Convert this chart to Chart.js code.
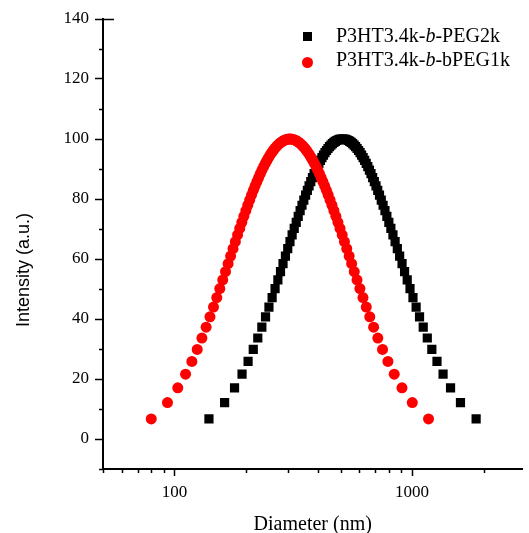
<!DOCTYPE html>
<html>
<head>
<meta charset="utf-8">
<script src="https://cdn.jsdelivr.net/npm/chart.js@4.4.1/dist/chart.umd.min.js"></script>
<style>
    body { margin: 0; background: #fff; }
    #wrap { position: relative; width: 529px; height: 533px; }
    #grafico { position: absolute; left: 0; top: 0; }
    .leyenda { position: absolute; font-family: 'Liberation Serif', serif; font-size: 20px; line-height: 23px; white-space: nowrap; color: #000; }
    .marca { position: absolute; }
    #tituloY { position: absolute; width: 220px; text-align: center; font-family: 'Liberation Sans', Arial, sans-serif; font-size: 18px; line-height: 20px; transform: rotate(-90deg); }
</style>
</head>
<body>
<div id="wrap">
    <canvas id="grafico" width="529" height="533"></canvas>
    <div class="marca" style="left:302.5px; top:32px; width:9px; height:9px; background:#000;"></div>
    <div class="marca" style="left:302px; top:57px; width:11px; height:11px; border-radius:50%; background:#ff0000;"></div>
    <div class="leyenda" style="left:336px; top:24px;">P3HT3.4k-<i>b</i>-PEG2k</div>
    <div class="leyenda" style="left:336px; top:47.5px;">P3HT3.4k-<i>b</i>-bPEG1k</div>
    <div id="tituloY" style="left:-87px; top:260px;">Intensity (a.u.)</div>
</div>
<script>
// intensidad (a.u.), misma para ambas muestras, de la cola izquierda a la derecha
const intensidad = [
    6.68, 12.14, 17.06, 21.60, 25.85, 29.86, 33.66, 37.27, 40.71, 43.99,
    47.13, 50.14, 53.02, 55.79, 58.44, 60.99, 63.43, 65.78, 68.02, 70.18,
    72.24, 74.22, 76.11, 77.92, 79.65, 81.31, 82.88, 84.38, 85.80, 87.15,
    88.43, 89.64, 90.78, 91.85, 92.85, 93.78, 94.64, 95.44, 96.17, 96.84,
    97.44, 97.98, 98.46, 98.87, 99.21, 99.50, 99.72, 99.87, 99.97,
    100,
    99.97, 99.87, 99.72, 99.50, 99.21, 98.87, 98.46, 97.98, 97.44,
    96.84, 96.17, 95.44, 94.64, 93.78, 92.85, 91.85, 90.78, 89.64, 88.43,
    87.15, 85.80, 84.38, 82.88, 81.31, 79.65, 77.92, 76.11, 74.22, 72.24,
    70.18, 68.02, 65.78, 63.43, 60.99, 58.44, 55.79, 53.02, 50.14, 47.13,
    43.99, 40.71, 37.27, 33.66, 29.86, 25.85, 21.60, 17.06, 12.14, 6.68
];

// diametro (nm) P3HT3.4k-b-PEG2k
const diametroPEG2k = [
    139.6, 162.5, 178.9, 192.4, 204.0, 214.5, 224.1, 233.1, 241.6, 249.7,
    257.5, 265.0, 272.3, 279.3, 286.2, 293.0, 299.6, 306.2, 312.6, 319.0,
    325.3, 331.6, 337.8, 344.0, 350.1, 356.2, 362.3, 368.4, 374.5, 380.6,
    386.7, 392.8, 398.9, 405.1, 411.2, 417.4, 423.6, 429.9, 436.2, 442.6,
    449.0, 455.4, 461.9, 468.5, 475.2, 481.9, 488.7, 495.6, 502.5,
    509.6,
    516.7, 524.0, 531.4, 538.9, 546.5, 554.2, 562.1, 570.2, 578.4,
    586.7, 595.3, 604.0, 612.9, 622.1, 631.4, 641.1, 650.9, 661.1, 671.5,
    682.3, 693.4, 704.8, 716.7, 729.0, 741.7, 754.9, 768.7, 783.1, 798.2,
    814.0, 830.6, 848.1, 866.6, 886.2, 907.2, 929.6, 953.8, 979.9, 1008.4,
    1039.8, 1074.6, 1113.8, 1158.5, 1210.5, 1272.8, 1350.0, 1451.4, 1597.9, 1859.8
];

// diametro (nm) P3HT3.4k-b-bPEG1k
const diametroBPEG1k = [
    79.8, 93.4, 103.2, 111.3, 118.3, 124.6, 130.4, 135.8, 141.0, 145.9,
    150.6, 155.1, 159.6, 163.9, 168.1, 172.2, 176.3, 180.3, 184.2, 188.1,
    192.0, 195.8, 199.6, 203.4, 207.2, 210.9, 214.7, 218.4, 222.2, 225.9,
    229.7, 233.4, 237.2, 241.0, 244.8, 248.6, 252.5, 256.4, 260.3, 264.2,
    268.2, 272.2, 276.2, 280.3, 284.4, 288.6, 292.8, 297.1, 301.5,
    305.9,
    310.3, 314.8, 319.4, 324.1, 328.9, 333.7, 338.7, 343.7, 348.8,
    354.1, 359.4, 364.9, 370.5, 376.2, 382.1, 388.2, 394.3, 400.7, 407.3,
    414.1, 421.1, 428.3, 435.8, 443.5, 451.6, 459.9, 468.7, 477.8, 487.3,
    497.4, 507.9, 519.0, 530.8, 543.3, 556.6, 570.9, 586.3, 603.0, 621.2,
    641.3, 663.6, 688.7, 717.4, 750.9, 791.0, 840.9, 906.5, 1001.7, 1172.6
];

const ticksX = [100, 1000];
const ticksXMenores = [50, 60, 70, 80, 90, 200, 300, 400, 500, 600, 700, 800, 900, 2000];
const ticksY = [0, 20, 40, 60, 80, 100, 120, 140];
const ticksYMenores = [-10, 10, 30, 50, 70, 90, 110, 130];

function armarPuntos(xs, ys){
    return xs.map((x, i) => ({ x: x, y: ys[i] }));
}

// ticks menores (mas cortos), ubicados con las escalas del grafico
const ticksMenores = {
    id: 'ticksMenores',
    afterDraw(chart){
        const ctx = chart.ctx;
        const ejeX = chart.scales.x;
        const ejeY = chart.scales.y;
        ctx.save();
        ctx.strokeStyle = '#000';
        ctx.lineWidth = 1.5;
        ctx.beginPath();
        ticksXMenores.forEach(v => {
            const px = Math.round(ejeX.getPixelForValue(v)) + 0.5;
            ctx.moveTo(px, ejeX.top);
            ctx.lineTo(px, ejeX.top + 4);
        });
        ticksYMenores.forEach(v => {
            const py = Math.round(ejeY.getPixelForValue(v)) + 0.5;
            ctx.moveTo(ejeY.right, py);
            ctx.lineTo(ejeY.right - 4, py);
        });
        // el tick de arriba cruza el eje
        const pyTop = Math.round(ejeY.getPixelForValue(ejeY.max)) + 0.5;
        ctx.moveTo(ejeY.right, pyTop);
        ctx.lineTo(ejeY.right + 11, pyTop);
        ctx.stroke();
        ctx.restore();
    }
};

const fuenteTicks = { family: "'Liberation Serif', serif", size: 17 };

new Chart(document.getElementById('grafico'), {
    type: 'scatter',
    plugins: [ticksMenores],
    data: {
        datasets: [
            {
                label: 'P3HT3.4k-b-PEG2k',
                data: armarPuntos(diametroPEG2k, intensidad),
                pointStyle: 'rect',
                pointRadius: 6.5,
                pointBorderWidth: 0,
                backgroundColor: '#000000',
                borderColor: '#000000',
                order: 2
            },
            {
                label: 'P3HT3.4k-b-bPEG1k',
                data: armarPuntos(diametroBPEG1k, intensidad),
                pointStyle: 'circle',
                pointRadius: 5.5,
                pointBorderWidth: 0,
                backgroundColor: '#ff0000',
                borderColor: '#ff0000',
                order: 1
            }
        ]
    },
    options: {
        responsive: false,
        animation: false,
        devicePixelRatio: 1,
        layout: { padding: { top: 19, right: 0, left: 0, bottom: 0 } },
        plugins: {
            legend: { display: false },
            tooltip: { enabled: false }
        },
        scales: {
            x: {
                type: 'logarithmic',
                min: 50,
                max: 2915,
                afterBuildTicks: (eje) => { eje.ticks = ticksX.map(v => ({ value: v })); },
                afterFit: (eje) => { eje.height = 64; },
                border: { color: '#000', width: 2 },
                grid: { drawOnChartArea: false, drawTicks: true, tickLength: 7, tickWidth: 1.5, tickColor: '#000' },
                ticks: {
                    color: '#000',
                    font: fuenteTicks,
                    padding: 6,
                    maxRotation: 0,
                    autoSkip: false,
                    callback: (v) => String(v)
                },
                title: {
                    display: true,
                    text: 'Diameter (nm)',
                    color: '#000',
                    font: { family: "'Liberation Serif', serif", size: 20 },
                    padding: { top: 0, bottom: -4 }
                }
            },
            y: {
                min: -10,
                max: 140,
                afterBuildTicks: (eje) => { eje.ticks = ticksY.map(v => ({ value: v })); },
                afterFit: (eje) => { eje.width = 103; },
                border: { color: '#000', width: 2 },
                grid: { drawOnChartArea: false, drawTicks: true, tickLength: 8, tickWidth: 1.5, tickColor: '#000' },
                ticks: {
                    color: '#000',
                    font: fuenteTicks,
                    padding: 6
                }
            }
        }
    }
});
</script>
</body>
</html>
